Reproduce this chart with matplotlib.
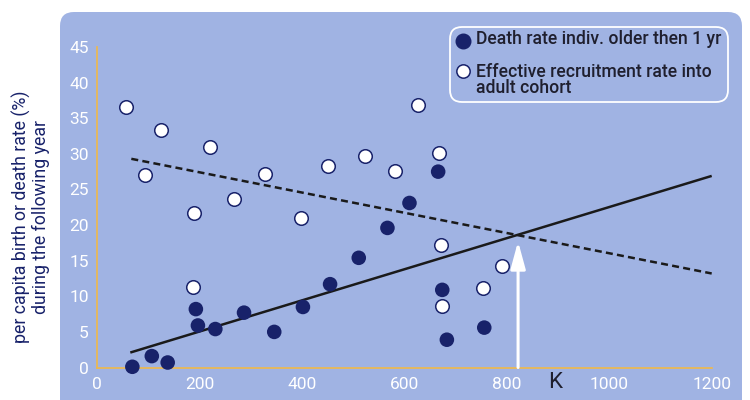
import matplotlib
matplotlib.use("Agg")
import matplotlib.pyplot as plt
from matplotlib.patches import FancyBboxPatch
from matplotlib.lines import Line2D

# ---- data ----
death_x = [69, 107, 138, 193, 197, 231, 287, 346, 402, 455, 511, 567, 610, 666, 674, 683, 756]
death_y = [0.1, 1.6, 0.7, 8.2, 5.9, 5.4, 7.7, 5.0, 8.5, 11.7, 15.4, 19.6, 23.1, 27.5, 10.9, 3.9, 5.6]
recr_x = [56, 94, 125, 190, 188, 221, 267, 327, 399, 451, 523, 582, 627, 668, 672, 674, 754, 791]
recr_y = [36.6, 27.0, 33.4, 21.7, 11.3, 31.0, 23.7, 27.2, 21.0, 28.3, 29.7, 27.6, 36.8, 30.1, 17.2, 8.6, 11.1, 14.3]
death_fit_x = [65, 1200]
death_fit_y = [2.1, 26.9]
recr_fit_x = [67, 1200]
recr_fit_y = [29.3, 13.2]
k_x = 822
k_y = 17.7
x_ticks = [0, 200, 400, 600, 800, 1000, 1200]
y_ticks = [0, 5, 10, 15, 20, 25, 30, 35, 40, 45]
legend_labels = ["Death rate indiv. older then 1 yr",
                 "Effective recruitment rate into\nadult cohort"]
y_label = "per capita birth or death rate (%)\nduring the following year"

# ---- style ----
PANEL = "#a0b3e3"
NAVY = "#18226a"
TEXT = "#1f1f2e"
AXIS = "#f0b84a"
FONT = ["Roboto", "DejaVu Sans"]
plt.rcParams["font.family"] = FONT

W, H = 750, 400
fig = plt.figure(figsize=(7.5, 4.0), dpi=100)
fig.patch.set_facecolor("white")

# background rounded panel (display/pixel coords)
panel = FancyBboxPatch((60, -30), 682, 418,
                       boxstyle="round,pad=0,rounding_size=14",
                       transform=None, facecolor=PANEL, edgecolor="none", zorder=-5)
fig.patches.append(panel)

def px(x0, y0, x1, y1):
    return [x0 / W, 1 - y1 / H, (x1 - x0) / W, (y1 - y0) / H]

ax = fig.add_axes(px(97, 47, 711.7, 367.5))
ax.set_zorder(1)
ax.set_facecolor("none")
ax.set_xlim(0, 1200)
ax.set_ylim(0, 45)
for s in ["top", "right"]:
    ax.spines[s].set_visible(False)
for s in ["left", "bottom"]:
    ax.spines[s].set_color(AXIS)
    ax.spines[s].set_linewidth(1.2)
ax.set_xticks(x_ticks)
ax.set_yticks(y_ticks)
ax.tick_params(length=0, colors="white", labelsize=12.5)
ax.tick_params(axis="x", pad=7)
ax.tick_params(axis="y", pad=6)

# fitted lines
ax.plot(death_fit_x, death_fit_y, color="#1a1a1a", lw=1.8, solid_capstyle="butt", zorder=2)
ax.plot(recr_fit_x, recr_fit_y, color="#1a1a1a", lw=1.8, dashes=(2.8, 1.7), zorder=2)

# points
ax.scatter(death_x, death_y, s=110, color=NAVY, edgecolor="none", zorder=4, clip_on=False)
ax.scatter(recr_x, recr_y, s=95, facecolor="white", edgecolor=NAVY, linewidth=1.1,
           zorder=4, clip_on=False)

# K arrow
ax.annotate("", xy=(k_x, k_y), xytext=(k_x, 0),
            arrowprops=dict(arrowstyle="-|>,head_length=1.65,head_width=0.45",
                            color="white", lw=2.2, mutation_scale=10,
                            shrinkA=0, shrinkB=0), zorder=3)
fig.text(555 / W, 1 - 382 / H, "K", fontsize=16, color=TEXT, ha="center", va="center")

# y label
fig.text(31 / W, 1 - 217 / H, y_label, rotation=90, ha="center", va="center",
         fontsize=12.8, color=NAVY, linespacing=1.05)

# legend box
leg = FancyBboxPatch((450, H - 102), 278, 75,
                     boxstyle="round,pad=0,rounding_size=12",
                     transform=None, facecolor="none", edgecolor="white", lw=1.3, zorder=5)
fig.patches.append(leg)
fig.add_artist(Line2D([463.3 / W], [1 - 40.7 / H], marker="o", markersize=10.5,
                      color=NAVY, markeredgecolor=NAVY, linestyle="none",
                      transform=fig.transFigure))
fig.add_artist(Line2D([463.3 / W], [1 - 71 / H], marker="o", markersize=9.6,
                      markerfacecolor="white", markeredgecolor=NAVY, markeredgewidth=1.1,
                      linestyle="none", transform=fig.transFigure))
fig.text(476.5 / W, 1 - 39.5 / H, legend_labels[0], fontsize=12.7, color=TEXT,
         ha="left", va="center", fontweight="medium")
fig.text(476.5 / W, 1 - 63 / H, legend_labels[1], fontsize=12.7, color=TEXT,
         ha="left", va="top", fontweight="medium", linespacing=0.85)

fig.savefig("out.png", dpi=100)
